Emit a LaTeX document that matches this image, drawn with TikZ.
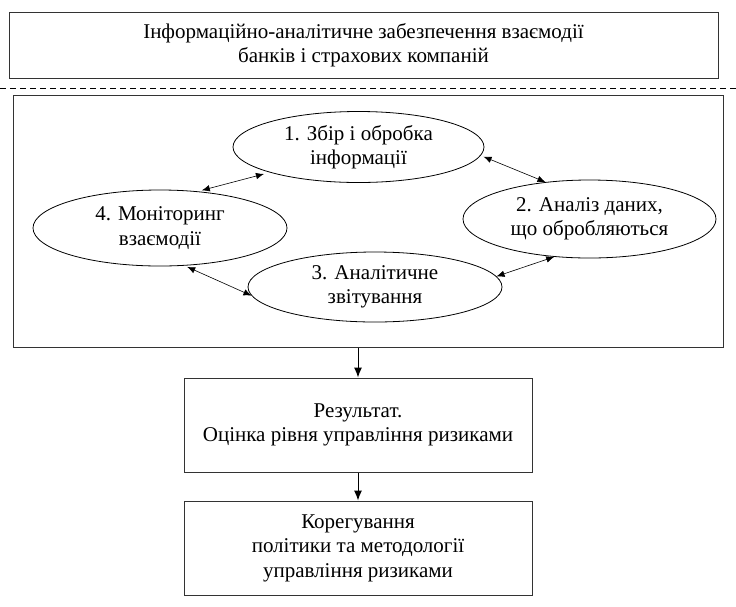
\documentclass[tikz,border=0pt]{standalone}
\usepackage{fontspec}
\setmainfont{Liberation Serif}
\usetikzlibrary{shapes.geometric,arrows.meta}

\begin{document}
\begin{tikzpicture}[x=1pt, y=-1pt, >={Latex[length=10pt,width=8pt]},
  txt/.style={font=\rmfamily\fontsize{21}{24.5}\selectfont, align=center},
  box/.style={txt, draw=black!80, line width=1pt, inner sep=0pt},
  stage/.style={txt, ellipse, draw, line width=0.8pt, inner sep=0pt},
  link/.style={<->, line width=0.6pt, >={Latex[length=8pt,width=6.5pt]}}]

  \useasboundingbox (0,0) rectangle (736,606);

  % -- top block and separator
  \node[box, minimum width=709pt, minimum height=66pt] (title) at (363.5,45)
    {Інформаційно-аналітичне забезпечення взаємодії\\банків і страхових компаній};
  \draw[line width=0.7pt, dash pattern=on 6pt off 4pt] (0,88) -- (736,88);

  % -- cycle of stages
  \node[box, minimum width=710pt, minimum height=252pt] (frame) at (368,221) {};
  \node[stage, minimum width=251pt, minimum height=71pt] (e1) at (358.5,147) {1. Збір і обробка\\інформації};
  \node[stage, minimum width=253pt, minimum height=78pt] (e2) at (589.5,219) {2. Аналіз даних,\\що обробляються};
  \node[stage, minimum width=254pt, minimum height=70pt] (e3) at (375,287) {3. Аналітичне\\звітування};
  \node[stage, minimum width=254pt, minimum height=76pt] (e4) at (160,228) {4. Моніторинг\\взаємодії};

  \draw[link, shorten >=6pt, shorten <=4pt] (e4.44) -- (e1.196);
  \draw[link, shorten <=3pt] (e1.356) -- (e2.140);
  \draw[link] (e3.5) -- (e2.227);
  \draw[link, shorten <=3pt] (e4.303) -- (e3.184);

  % -- result and correction
  \node[box, minimum width=348pt, minimum height=94pt] (result) at (358,425)
    {Результат.\\Оцінка рівня управління ризиками};
  \node[box, minimum width=348pt, minimum height=94pt] (fix) at (358,548)
    {Корегування\\політики та методології\\управління ризиками};

  \draw[->, line width=1pt] (frame.south -| result.north) -- (result.north);
  \draw[->, line width=1pt] (result.south) -- (fix.north);

\end{tikzpicture}
\end{document}
